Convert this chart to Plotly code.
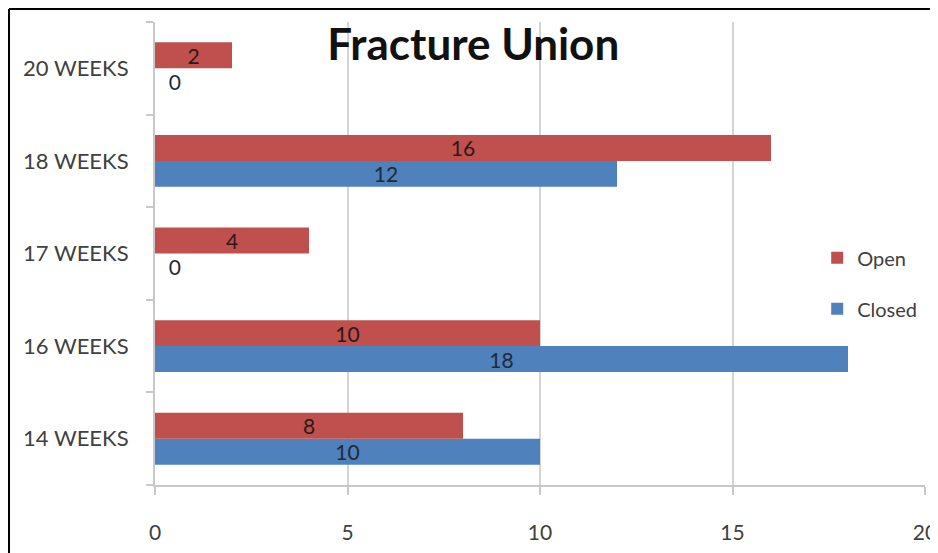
import plotly.graph_objects as go

categories = ["14 WEEKS", "16 WEEKS", "17 WEEKS", "18 WEEKS", "20 WEEKS"]
open_vals = [8, 10, 4, 16, 2]
closed_vals = [10, 18, 0, 12, 0]
x_ticks = [0, 5, 10, 15, 20]

RED = "#c0504d"
BLUE = "#4f81bd"
FONT = "Lato"

L, R, T, B = 147, 21, 14, 76
W, H = 938, 553
PW, PH = W - L - R, H - T - B


def labels(vals):
    return [("\u00a0\u00a0" + str(v)) if v == 0 else str(v) for v in vals]


def positions(vals):
    return ["outside" if v == 0 else "inside" for v in vals]


fig = go.Figure()
fig.add_trace(go.Bar(
    y=categories, x=closed_vals, name="Closed", orientation="h",
    marker=dict(color=BLUE, line=dict(width=0)),
    text=labels(closed_vals), textposition=positions(closed_vals),
    insidetextanchor="middle", constraintext="none", textangle=0,
    textfont=dict(family=FONT, size=21, color="#1f2a3a"),
    legendgroup="b", legendrank=2, cliponaxis=False,
))
fig.add_trace(go.Bar(
    y=categories, x=open_vals, name="Open", orientation="h",
    marker=dict(color=RED, line=dict(width=0)),
    text=labels(open_vals), textposition=positions(open_vals),
    insidetextanchor="middle", constraintext="none", textangle=0,
    textfont=dict(family=FONT, size=21, color="#2a1a1a"),
    legendgroup="a", legendrank=1, cliponaxis=False,
))

fx0 = (1 - L) / PW
fy0 = (PH + T - 1) / PH

fig.update_layout(
    width=W, height=H,
    margin=dict(l=L, r=R, t=T, b=B),
    paper_bgcolor="white", plot_bgcolor="white",
    barmode="group", bargap=0.44, bargroupgap=0,
    font=dict(family=FONT, size=21, color="#404040"),
    title=dict(text="<b>Fracture Union</b>", x=0.496, xref="container", xanchor="center",
               y=0.933, yref="container", yanchor="middle",
               font=dict(family=FONT, size=44, color="#111111")),
    showlegend=True,
    legend=dict(x=0.86, y=0.533, xanchor="left", yanchor="top",
                traceorder="grouped", tracegroupgap=22,
                font=dict(family=FONT, size=20, color="#404040"),
                bgcolor="rgba(0,0,0,0)", itemwidth=30),
    xaxis=dict(range=[0, 20], tickvals=x_ticks, showgrid=True,
               gridcolor="#d4d4d4", gridwidth=2,
               showline=True, linecolor="#c8c8c8", linewidth=2,
               ticks="outside", ticklen=8, tickcolor="#c8c8c8", tickwidth=2,
               ticklabelstandoff=20, zeroline=False, automargin=False,
               tickfont=dict(family=FONT, size=21, color="#404040")),
    yaxis=dict(showline=True, linecolor="#c8c8c8", linewidth=2,
               ticks="outside", ticklen=7, tickcolor="#c8c8c8", tickwidth=2,
               tickson="boundaries", ticklabelstandoff=20,
               showgrid=False, automargin=False,
               tickfont=dict(family=FONT, size=22, color="#404040")),
    shapes=[
        dict(type="line", xref="paper", yref="paper", x0=fx0, x1=1.1,
             y0=fy0, y1=fy0, line=dict(color="black", width=2)),
        dict(type="line", xref="paper", yref="paper", x0=fx0, x1=fx0,
             y0=fy0, y1=-0.3, line=dict(color="black", width=2)),
    ],
)

fig.write_html("out.html")
